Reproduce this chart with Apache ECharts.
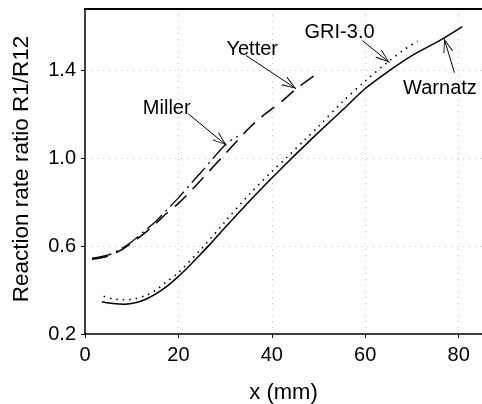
<!DOCTYPE html>
<html><head><meta charset="utf-8">
<script src="https://cdn.jsdelivr.net/npm/echarts@6/dist/echarts.min.js"></script>
<style>html,body{margin:0;padding:0;background:#fff}#c{width:482px;height:404px}</style>
</head><body><div id="c"></div>
<script>
// Data
const xTicks = [0, 20, 40, 60, 80];
const yTicks = [0.2, 0.6, 1.0, 1.4];
const warnatzX = [3.6, 6, 8.5, 11, 13, 15, 17.3, 19, 21.4, 24, 26.7, 30, 35, 40, 44, 47.4, 50, 55.9, 60, 65.2, 70, 75.9, 80.8];
const warnatzY = [0.347, 0.339, 0.336, 0.343, 0.358, 0.38, 0.413, 0.443, 0.49, 0.547, 0.607, 0.685, 0.80, 0.91, 0.995, 1.065, 1.118, 1.235, 1.318, 1.40, 1.468, 1.536, 1.60];
const griX = [4, 6, 8, 10, 13, 15, 17.3, 20, 25, 30, 35, 40, 43, 47, 50, 55, 60, 64.7, 68, 71.2];
const griY = [0.372, 0.36, 0.356, 0.358, 0.375, 0.397, 0.435, 0.48, 0.59, 0.712, 0.832, 0.94, 1.0, 1.083, 1.145, 1.255, 1.352, 1.436, 1.49, 1.533];
const yetterX = [1.5, 5, 7.5, 10, 12.5, 15, 17.5, 20, 22.8, 25, 30, 32.8, 35, 37.4, 40, 42, 45.3, 49.1];
const yetterY = [0.54, 0.555, 0.58, 0.615, 0.655, 0.70, 0.75, 0.795, 0.855, 0.905, 1.02, 1.085, 1.135, 1.182, 1.225, 1.257, 1.318, 1.377];
const millerX = [1.5, 5, 7.5, 10, 12.5, 15, 17.5, 20, 23, 25, 30.3, 32.7];
const millerY = [0.545, 0.56, 0.585, 0.62, 0.665, 0.71, 0.765, 0.82, 0.893, 0.94, 1.067, 1.10];
// annotations: [label, labelX, labelY, arrowFromX, arrowFromY, tipX, tipY]
const notes = [
  ['Yetter', 35.8, 1.497, 34.5, 1.468, 45.2, 1.317],
  ['Miller', 17.5, 1.225, 22.1, 1.203, 30.3, 1.059],
  ['GRI-3.0', 54.5, 1.572, 59.4, 1.536, 65.2, 1.436],
  ['Warnatz', 76.0, 1.318, 79.1, 1.39, 76.9, 1.545]
];

const zip = (xs, ys) => xs.map((x, i) => [x, ys[i]]);
const font = 'Liberation Sans, Arial, sans-serif';
const chart = echarts.init(document.getElementById('c'));
const vArrow = 'path://M5,-12 L5.01,-12 L5,-11.99 Z M5,0 L10,12 L9,12 L5,2 L1,12 L0,12 Z';

chart.setOption({
  animation: false,
  grid: { left: 85, top: 9, right: 0, bottom: 70, containLabel: false, outerBoundsMode: 'none' },
  xAxis: [{
    type: 'value', min: 0, max: 85, interval: 20,
    name: 'x (mm)', nameLocation: 'middle', nameGap: 48,
    nameTextStyle: { color: '#000', fontSize: 22, fontFamily: font },
    axisLine: { lineStyle: { color: '#000', width: 1.5 } },
    axisTick: { show: true, length: 4, lineStyle: { color: '#000' } },
    axisLabel: { color: '#000', fontSize: 20, fontFamily: font, margin: 11, showMaxLabel: false },
    splitLine: { show: true, lineStyle: { color: '#c4c4c4', type: [1, 5], width: 1 } }
  }, {
    type: 'value', position: 'top', min: 0, max: 85,
    axisLine: { show: true, lineStyle: { color: '#000', width: 2 } },
    axisTick: { show: false }, axisLabel: { show: false }, splitLine: { show: false }
  }],
  yAxis: {
    type: 'value', min: 0.2, max: 1.68, interval: 0.4,
    name: 'Reaction rate ratio R1/R12', nameLocation: 'middle', nameGap: 52,
    nameTextStyle: { color: '#000', fontSize: 22.5, fontFamily: font, padding: [0, 0, 0, 5] },
    axisLine: { show: true, lineStyle: { color: '#000', width: 1.5 } },
    axisTick: { show: true, length: 4, lineStyle: { color: '#000' } },
    axisLabel: { color: '#000', fontSize: 20, fontFamily: font, margin: 9, showMaxLabel: false,
      formatter: v => v.toFixed(1) },
    splitLine: { show: true, lineStyle: { color: '#c4c4c4', type: [1, 5], width: 1 } }
  },
  series: [
    { type: 'line', name: 'Warnatz', data: zip(warnatzX, warnatzY), smooth: 0.3, showSymbol: false,
      lineStyle: { color: '#000', width: 1.5 },
      markLine: {
        silent: true, animation: false, symbol: ['none', vArrow], symbolSize: [10, 28],
        label: { show: false }, emphasis: { disabled: true },
        lineStyle: { color: '#000', width: 1, type: 'solid' },
        data: notes.map(n => [{ coord: [n[3], n[4]] }, { coord: [n[5], n[6]] }])
      } },
    { type: 'line', name: 'GRI-3.0', data: zip(griX, griY), smooth: 0.3, showSymbol: false,
      lineStyle: { color: '#000', width: 1.6, type: [1.5, 5] } },
    { type: 'line', name: 'Yetter', data: zip(yetterX, yetterY), smooth: 0.3, showSymbol: false,
      lineStyle: { color: '#000', width: 1.5, type: [16, 9] } },
    { type: 'line', name: 'Miller', data: zip(millerX, millerY), smooth: 0.3, showSymbol: false,
      lineStyle: { color: '#000', width: 1.3, type: [20, 5, 2, 5] } },
    { type: 'scatter', data: notes.map(n => ({ value: [n[1], n[2]], name: n[0] })), symbolSize: 0,
      itemStyle: { opacity: 1 },
      label: { show: true, position: 'inside', formatter: p => p.name, color: '#000', opacity: 1,
        textBorderWidth: 0, fontSize: 20, fontFamily: font },
      silent: true, z: 5 }
  ]
});
</script></body></html>
